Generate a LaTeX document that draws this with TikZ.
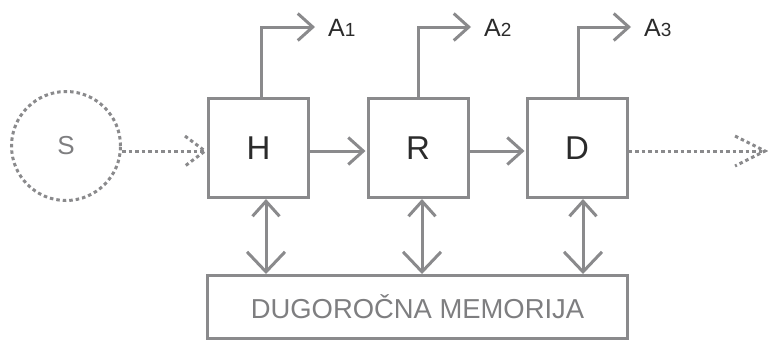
\documentclass[tikz,border=0pt]{standalone}
\usepackage{fontspec}
\setmainfont{Liberation Sans}
\usetikzlibrary{arrows.meta,calc}
\definecolor{ln}{HTML}{8A8A8C}
\definecolor{tx}{HTML}{2B2B2B}
\definecolor{gt}{HTML}{7E7E80}
\tikzset{
  x=1pt,y=-1pt,
  stage/.style={draw=ln,line width=3pt,minimum width=100pt,minimum height=99pt,inner sep=0pt,text=tx,font=\fontsize{33}{36}\selectfont},
  mem/.style={draw=ln,line width=3pt,minimum width=420pt,minimum height=63pt,inner sep=0pt,text=gt,font=\fontsize{27.4}{30}\selectfont},
  conn/.style={draw=ln,line width=3pt},
  tipS/.style={-{Straight Barb[length=15pt,width=27pt]}},
  dbl/.style={{Straight Barb[length=15pt,width=27pt]}-{Straight Barb[length=20pt,width=38pt]}},
  dots/.style={draw=ln,line width=3pt,dash pattern=on 3.5pt off 3pt},
  outlbl/.style={anchor=base west,inner sep=0pt,text=tx},
}
\begin{document}
\begin{tikzpicture}
\useasboundingbox (0,0) rectangle (768,341);
\node[circle,dots,minimum size=109pt,inner sep=0pt,text=gt,font=\fontsize{26}{28}\selectfont] (S) at (66,146) {S};
\node[stage] (H) at (258.5,148) {H};
\node[stage] (R) at (418,148) {R};
\node[stage] (D) at (577,148) {D};
\node[mem] (M) at (417.5,307) {DUGOROČNA MEMORIJA};
% dotted input
\coordinate (sin) at (S.east |- 0,151);
\coordinate (hin) at (H.west |- 0,151);
\path[dots] (sin) -- ($(hin)+(-2,0)$);
\path[dots] ($(hin)+(-22,-15)$) -- ($(hin)+(-2,0)$) -- ($(hin)+(-22,15)$);
% dotted output
\coordinate (dout) at (D.east |- 0,151);
\coordinate (tipE) at (765,151);
\path[dots] (dout) -- (tipE);
\path[dots] ($(tipE)+(-30,-15)$) -- (tipE) -- ($(tipE)+(-30,15)$);
% solid arrows between stages
\path[conn,tipS] ($(H.east)+(0,3)$) -- ($(R.west)+(-1,3)$);
\path[conn,tipS] ($(R.east)+(0,3)$) -- ($(D.west)+(-1,3)$);
% outputs
\coordinate (a1) at (261,27);
\coordinate (a2) at (418,27);
\coordinate (a3) at (578,27);
\path[conn,tipS] (H.north -| a1) -- (a1) -- ++(54,0) coordinate (t1);
\path[conn,tipS] (R.north -| a2) -- (a2) -- ++(53,0) coordinate (t2);
\path[conn,tipS] (D.north -| a3) -- (a3) -- ++(53,0) coordinate (t3);
\node[outlbl] (A1) at ($(t1)+(13,9)$) {\fontsize{25}{26}\selectfont A\fontsize{19}{20}\selectfont 1};
\node[outlbl] (A2) at ($(t2)+(13,9)$) {\fontsize{25}{26}\selectfont A\fontsize{19}{20}\selectfont 2};
\node[outlbl] (A3) at ($(t3)+(13,9)$) {\fontsize{25}{26}\selectfont A\fontsize{19}{20}\selectfont 3};
% memory links
\coordinate (m1) at (266,0);
\coordinate (m2) at (422,0);
\coordinate (m3) at (583,0);
\path[conn,dbl] (H.south -| m1) -- (M.north -| m1);
\path[conn,dbl] (R.south -| m2) -- (M.north -| m2);
\path[conn,dbl] (D.south -| m3) -- (M.north -| m3);
\end{tikzpicture}
\end{document}
